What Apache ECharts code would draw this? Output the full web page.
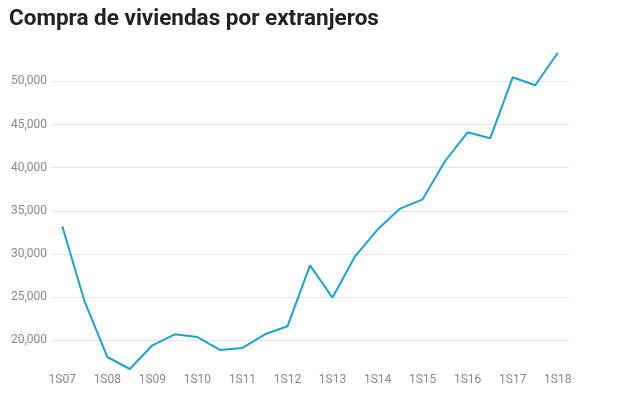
<!DOCTYPE html>
<html>
<head>
<meta charset="utf-8">
<script src="https://cdn.jsdelivr.net/npm/echarts@6/dist/echarts.min.js"></script>
<style>
  html, body { margin: 0; padding: 0; background: #fff; }
  #chart { width: 640px; height: 398px; }
</style>
</head>
<body>
<div id="chart"></div>
<script>
// semestres (1S = primer semestre, 2S = segundo)
var periodos = ['1S07', '2S07', '1S08', '2S08', '1S09', '2S09', '1S10', '2S10',
	'1S11', '2S11', '1S12', '2S12', '1S13', '2S13', '1S14', '2S14', '1S15', '2S15',
	'1S16', '2S16', '1S17', '2S17', '1S18'];
// compraventas de vivienda por extranjeros
var compras = [33210, 24440, 18065, 16674, 19420, 20695, 20380, 18880,
	19110, 20695, 21622, 28690, 24948, 29733, 32827, 35261, 36338, 40776,
	44102, 43407, 50475, 49548, 53291];

var myChart = echarts.init(document.getElementById('chart'));

// lineas de cuadricula: la primera y la ultima (min/max del eje) van ocultas
var gridColors = ['rgba(0,0,0,0)', '#e6e6e6', '#e6e6e6', '#e6e6e6', '#e6e6e6',
	'#e6e6e6', '#e6e6e6', '#e6e6e6', 'rgba(0,0,0,0)'];

var option = {
	animation: false,
	title: {
		text: 'Compra de viviendas por extranjeros',
		left: 4,
		top: 3,
		textStyle: {
			fontFamily: 'Roboto',
			fontSize: 22.5,
			fontWeight: 'bold',
			color: '#222'
		}
	},
	grid: {
		left: 51,
		right: 71,
		top: 53,
		bottom: 29
	},
	xAxis: {
		type: 'category',
		data: periodos,
		boundaryGap: true,
		axisLine: { show: false },
		axisTick: { show: false },
		axisLabel: {
			interval: 1,
			margin: 5,
			color: '#8a8a8a',
			fontFamily: 'Roboto',
			fontSize: 12
		}
	},
	yAxis: {
		type: 'value',
		min: 'dataMin',
		max: 'dataMax',
		splitNumber: 7,
		axisLine: { show: false },
		axisTick: { show: false },
		axisLabel: {
			showMinLabel: false,
			showMaxLabel: false,
			margin: 4,
			color: '#8a8a8a',
			fontFamily: 'Roboto',
			fontSize: 12,
			formatter: function (v) {
				return v.toLocaleString('en-US');
			}
		},
		splitLine: {
			lineStyle: { color: gridColors, width: 1 }
		}
	},
	series: [{
		name: 'Compras',
		type: 'line',
		data: compras,
		showSymbol: false,
		lineStyle: { color: '#1ea3cc', width: 2 },
		itemStyle: { color: '#1ea3cc' }
	}]
};
myChart.setOption(option);
</script>
</body>
</html>
